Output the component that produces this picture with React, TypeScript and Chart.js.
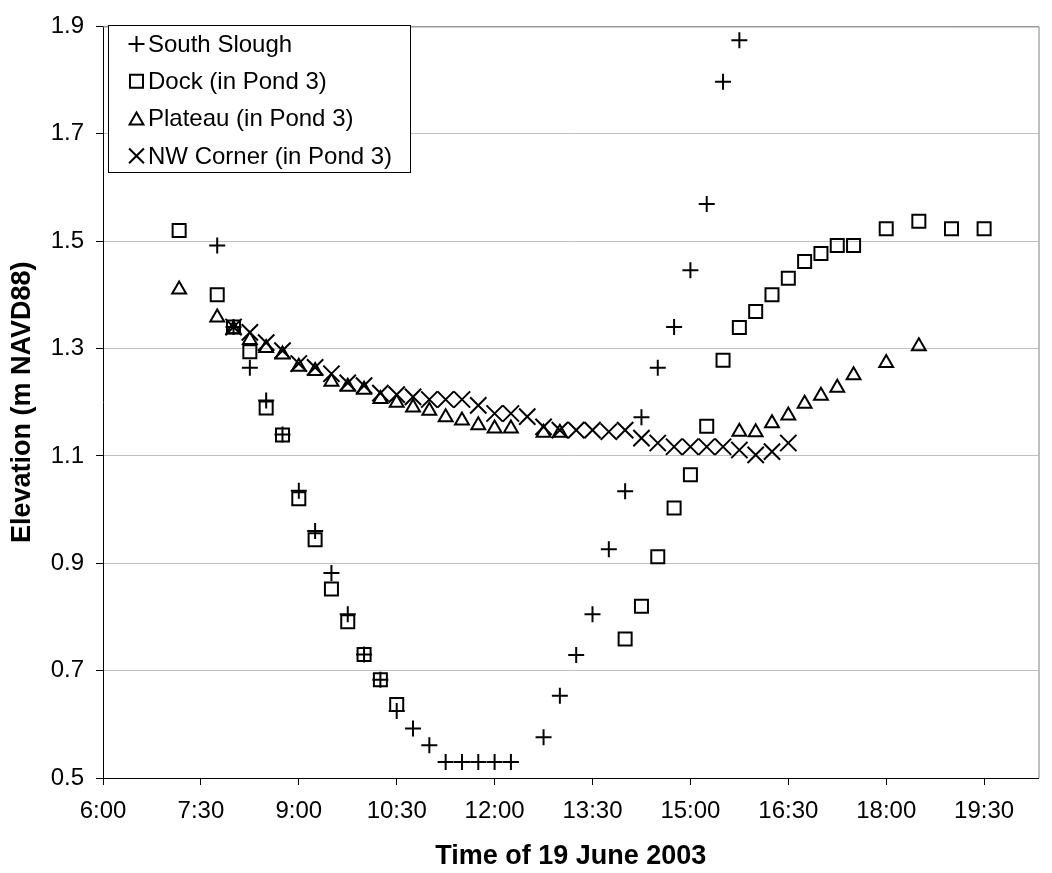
import React, { useEffect, useRef } from 'react';
import { Chart, registerables } from 'chart.js';

Chart.register(...registerables);

const FONT = '"Liberation Sans", Arial, Helvetica, sans-serif';

// ---- data ----
const seriesNames = ['South Slough', 'Dock (in Pond 3)', 'Plateau (in Pond 3)', 'NW Corner (in Pond 3)'];

const southSloughTimes = ['7:45', '8:00', '8:15', '8:30', '8:45', '9:00', '9:15', '9:30', '9:45', '10:00', '10:15', '10:30', '10:45', '11:00', '11:15', '11:30', '11:45', '12:00', '12:15', '12:45', '13:00', '13:15', '13:30', '13:45', '14:00', '14:15', '14:30', '14:45', '15:00', '15:15', '15:30', '15:45'];
const southSloughValues = [1.492, 1.34, 1.264, 1.203, 1.14, 1.035, 0.96, 0.882, 0.805, 0.73, 0.683, 0.625, 0.592, 0.561, 0.53, 0.53, 0.53, 0.53, 0.53, 0.576, 0.653, 0.729, 0.805, 0.926, 1.034, 1.172, 1.264, 1.34, 1.446, 1.569, 1.797, 1.874];

const dockTimes = ['7:10', '7:45', '8:00', '8:15', '8:30', '8:45', '9:00', '9:15', '9:30', '9:45', '10:00', '10:15', '10:30', '14:00', '14:15', '14:30', '14:45', '15:00', '15:15', '15:30', '15:45', '16:00', '16:15', '16:30', '16:45', '17:00', '17:15', '17:30', '18:00', '18:30', '19:00', '19:30'];
const dockValues = [1.52, 1.40, 1.34, 1.294, 1.189, 1.139, 1.02, 0.944, 0.852, 0.791, 0.73, 0.683, 0.637, 0.759, 0.82, 0.912, 1.003, 1.065, 1.155, 1.278, 1.339, 1.369, 1.40, 1.431, 1.462, 1.477, 1.492, 1.492, 1.523, 1.537, 1.523, 1.523];

const plateauTimes = ['7:10', '7:45', '8:00', '8:15', '8:30', '8:45', '9:00', '9:15', '9:30', '9:45', '10:00', '10:15', '10:30', '10:45', '11:00', '11:15', '11:30', '11:45', '12:00', '12:15', '12:45', '13:00', '15:45', '16:00', '16:15', '16:30', '16:45', '17:00', '17:15', '17:30', '18:00', '18:30'];
const plateauValues = [1.41, 1.358, 1.336, 1.316, 1.301, 1.289, 1.266, 1.258, 1.238, 1.229, 1.223, 1.206, 1.199, 1.19, 1.184, 1.172, 1.166, 1.157, 1.151, 1.151, 1.143, 1.143, 1.145, 1.144, 1.161, 1.175, 1.197, 1.212, 1.227, 1.25, 1.273, 1.304];

const nwCornerTimes = ['8:00', '8:15', '8:30', '8:45', '9:00', '9:15', '9:30', '9:45', '10:00', '10:15', '10:30', '10:45', '11:00', '11:15', '11:30', '11:45', '12:00', '12:15', '12:30', '12:45', '13:00', '13:15', '13:30', '13:45', '14:00', '14:15', '14:30', '14:45', '15:00', '15:15', '15:30', '15:45', '16:00', '16:15', '16:30'];
const nwCornerValues = [1.34, 1.33, 1.311, 1.296, 1.272, 1.265, 1.253, 1.236, 1.231, 1.217, 1.214, 1.21, 1.205, 1.205, 1.205, 1.194, 1.179, 1.179, 1.173, 1.154, 1.148, 1.148, 1.148, 1.145, 1.148, 1.133, 1.124, 1.117, 1.117, 1.117, 1.117, 1.111, 1.102, 1.108, 1.124];

const xTickLabels = ['6:00', '7:30', '9:00', '10:30', '12:00', '13:30', '15:00', '16:30', '18:00', '19:30'];
const xRange = ['6:00', '20:20'];
const yTickValues = [0.5, 0.7, 0.9, 1.1, 1.3, 1.5, 1.7, 1.9];

const xTitle = 'Time of 19 June 2003';
const yTitle = 'Elevation (m NAVD88)';

// ---- helpers ----
function toMin(t: string): number {
  const [h, m] = t.split(':').map(Number);
  return h * 60 + m;
}
function fmtTime(v: number): string {
  const h = Math.floor(v / 60);
  const m = Math.round(v - h * 60);
  return `${h}:${String(m).padStart(2, '0')}`;
}
function pts(times: string[], values: number[]) {
  return times.map((t, i) => ({ x: toMin(t), y: values[i] }));
}

type Marker = { style: string; radius: number };
const markers: Marker[] = [
  { style: 'cross', radius: 8 },
  { style: 'rect', radius: 9.2 },
  { style: 'triangle', radius: 8 },
  { style: 'crossRot', radius: 11.5 },
];

function drawMarker(ctx: CanvasRenderingContext2D, style: string, x: number, y: number, r: number) {
  ctx.beginPath();
  if (style === 'cross') {
    ctx.moveTo(x - r, y);
    ctx.lineTo(x + r, y);
    ctx.moveTo(x, y - r);
    ctx.lineTo(x, y + r);
  } else if (style === 'crossRot') {
    const o = r * Math.SQRT1_2;
    ctx.moveTo(x - o, y - o);
    ctx.lineTo(x + o, y + o);
    ctx.moveTo(x + o, y - o);
    ctx.lineTo(x - o, y + o);
  } else if (style === 'rect') {
    const s = r * Math.SQRT1_2;
    ctx.rect(x - s, y - s, 2 * s, 2 * s);
  } else if (style === 'triangle') {
    for (let k = 0; k < 3; k++) {
      const a = (k * 2 * Math.PI) / 3;
      const px = x + Math.sin(a) * r;
      const py = y - Math.cos(a) * r;
      if (k === 0) ctx.moveTo(px, py);
      else ctx.lineTo(px, py);
    }
    ctx.closePath();
  }
  ctx.stroke();
}

const frameAndLegend = {
  id: 'frameAndLegend',
  beforeDatasetsDraw(chart: any) {
    const { ctx, chartArea } = chart;
    ctx.save();
    ctx.strokeStyle = '#808080';
    ctx.lineWidth = 1;
    ctx.beginPath();
    ctx.moveTo(chartArea.left, chartArea.top + 0.5);
    ctx.lineTo(chartArea.right + 0.5, chartArea.top + 0.5);
    ctx.lineTo(chartArea.right + 0.5, chartArea.bottom);
    ctx.stroke();
    ctx.restore();
  },
  afterDraw(chart: any) {
    const { ctx } = chart;
    ctx.save();
    const x0 = 108.5, y0 = 25.5, w = 302, h = 147;
    ctx.fillStyle = '#ffffff';
    ctx.fillRect(x0, y0, w, h);
    ctx.strokeStyle = '#000000';
    ctx.lineWidth = 1;
    ctx.strokeRect(x0, y0, w, h);
    chart.data.datasets.forEach((ds: any, i: number) => {
      const cy = 44 + i * 37.3;
      const mk = markers[i];
      ctx.strokeStyle = '#000';
      ctx.lineWidth = 2;
      const r = mk.style === 'crossRot' ? 10.5 : mk.radius;
      drawMarker(ctx, mk.style, 136.5, mk.style === 'triangle' ? cy + r / 4 : cy, r);
      ctx.fillStyle = '#000';
      ctx.font = `24px ${FONT}`;
      ctx.textBaseline = 'middle';
      ctx.textAlign = 'left';
      ctx.fillText(ds.label, 148, cy + 1);
    });
    ctx.restore();
  },
};

export default function App() {
  const ref = useRef<HTMLCanvasElement>(null);

  useEffect(() => {
    if (!ref.current) return;
    const seriesData = [
      pts(southSloughTimes, southSloughValues),
      pts(dockTimes, dockValues),
      pts(plateauTimes, plateauValues),
      pts(nwCornerTimes, nwCornerValues),
    ];
    const chart = new Chart(ref.current, {
      type: 'scatter',
      data: {
        datasets: seriesData.map((d, i) => ({
          label: seriesNames[i],
          data: d,
          showLine: false,
          pointStyle: markers[i].style as any,
          pointRadius: markers[i].radius,
          pointHoverRadius: markers[i].radius,
          pointBorderWidth: 2,
          pointBorderColor: '#000000',
          pointBackgroundColor: 'rgba(0,0,0,0)',
        })),
      },
      options: {
        animation: false,
        responsive: false,
        devicePixelRatio: 1,
        events: [],
        layout: { padding: { top: 19, right: 9, bottom: 0, left: 0 } },
        plugins: {
          legend: { display: false },
          tooltip: { enabled: false },
        },
        scales: {
          x: {
            type: 'linear',
            position: 'bottom',
            min: toMin(xRange[0]),
            max: toMin(xRange[1]),
            afterBuildTicks: (s: any) => {
              s.ticks = xTickLabels.map((t) => ({ value: toMin(t) }));
            },
            afterFit: (s: any) => {
              s.height = 95;
            },
            ticks: {
              autoSkip: false,
              maxRotation: 0,
              padding: 12,
              color: '#000',
              font: { family: FONT, size: 24 },
              callback: (v: any) => fmtTime(Number(v)),
            },
            grid: {
              drawOnChartArea: false,
              drawTicks: true,
              tickLength: 7,
              tickColor: '#000',
            },
            border: { display: true, color: '#000', width: 1 },
            title: {
              display: true,
              text: xTitle,
              color: '#000',
              font: { family: FONT, size: 27, weight: 'bold', lineHeight: 1.2 },
              padding: { top: 4, bottom: 0 },
            },
          },
          y: {
            type: 'linear',
            position: 'left',
            min: yTickValues[0],
            max: yTickValues[yTickValues.length - 1],
            afterBuildTicks: (s: any) => {
              s.ticks = yTickValues.map((v) => ({ value: v }));
            },
            afterFit: (s: any) => {
              s.width = 103;
            },
            ticks: {
              padding: 12,
              color: '#000',
              font: { family: FONT, size: 24 },
              callback: (v: any) => Number(v).toFixed(1),
            },
            grid: {
              color: '#c0c0c0',
              lineWidth: 1,
              drawTicks: true,
              tickLength: 7,
              tickColor: '#000',
            },
            border: { display: true, color: '#000', width: 1 },
            title: {
              display: true,
              text: yTitle,
              color: '#000',
              font: { family: FONT, size: 27, weight: 'bold', lineHeight: 1.2 },
              padding: { top: 6, bottom: 0 },
            },
          },
        },
      },
      plugins: [frameAndLegend],
    });
    return () => chart.destroy();
  }, []);

  return (
    <div style={{ position: 'absolute', left: 0, top: 0, width: 1052, height: 873, background: '#ffffff' }}>
      <canvas ref={ref} width={1052} height={873} style={{ display: 'block', width: 1052, height: 873 }} />
    </div>
  );
}
